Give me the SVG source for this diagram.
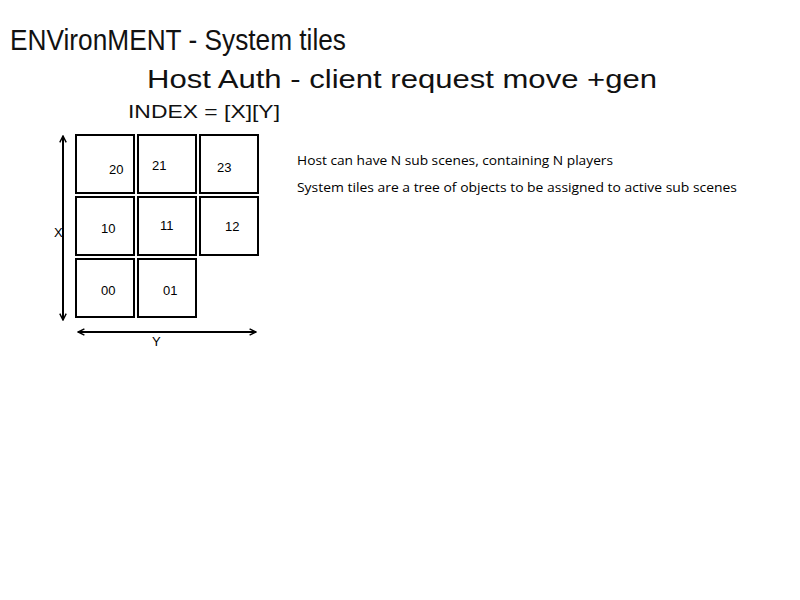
<svg xmlns="http://www.w3.org/2000/svg" width="800" height="600" viewBox="0 0 800 600">
<style>
.hand{font-family:"Liberation Sans","DejaVu Sans",sans-serif;fill:#111;}
.tile rect{fill:#fff;stroke:#000;stroke-width:2;}
.tile text,.lbl{font-family:"Liberation Sans",Arial,sans-serif;font-size:13px;fill:#000;}
.note{font-family:"Open Sans","Liberation Sans",sans-serif;font-size:13px;fill:#000;}
.axis{stroke:#000;stroke-width:2;fill:none;}
</style>
<defs>
<marker id="ah" viewBox="0 0 10 10" refX="9" refY="5" markerWidth="8" markerHeight="8" orient="auto-start-reverse" markerUnits="userSpaceOnUse">
<path d="M1,1 L9,5 L1,9" fill="none" stroke="#000" stroke-width="1.8"/>
</marker>
</defs>
<rect width="800" height="600" fill="#fff"/>
<text class="hand" x="10" y="50" font-size="30" textLength="336" lengthAdjust="spacingAndGlyphs">ENVironMENT - System tiles</text>
<text class="hand" x="147" y="88" font-size="25" textLength="510" lengthAdjust="spacingAndGlyphs">Host Auth - client request  move +gen</text>
<text class="hand" x="128" y="118" font-size="19" textLength="152" lengthAdjust="spacingAndGlyphs">INDEX = [X][Y]</text>
<g id="tile-20" class="tile"><rect x="76" y="135" width="58" height="58"/><text x="109" y="174">20</text></g>
<g id="tile-21" class="tile"><rect x="138" y="135" width="58" height="58"/><text x="152" y="170">21</text></g>
<g id="tile-23" class="tile"><rect x="200" y="135" width="58" height="58"/><text x="217" y="172">23</text></g>
<g id="tile-10" class="tile"><rect x="76" y="197" width="58" height="58"/><text x="101" y="233">10</text></g>
<g id="tile-11" class="tile"><rect x="138" y="197" width="58" height="58"/><text x="160" y="230">11</text></g>
<g id="tile-12" class="tile"><rect x="200" y="197" width="58" height="58"/><text x="225" y="231">12</text></g>
<g id="tile-00" class="tile"><rect x="76" y="259" width="58" height="58"/><text x="101" y="295">00</text></g>
<g id="tile-01" class="tile"><rect x="138" y="259" width="58" height="58"/><text x="163" y="295">01</text></g>
<g id="connectors">
<line class="axis" x1="63" y1="136" x2="63" y2="320" marker-start="url(#ah)" marker-end="url(#ah)"/>
<line class="axis" x1="78" y1="332" x2="256" y2="332" marker-start="url(#ah)" marker-end="url(#ah)"/>
</g>
<text class="lbl" x="54" y="237">X</text>
<text class="lbl" x="152" y="346">Y</text>
<text class="note" x="297" y="165" textLength="316" lengthAdjust="spacingAndGlyphs">Host can have N sub scenes, containing N players</text>
<text class="note" x="297" y="192" textLength="440" lengthAdjust="spacingAndGlyphs">System tiles are a tree of objects to be assigned to active sub scenes</text>
</svg>
